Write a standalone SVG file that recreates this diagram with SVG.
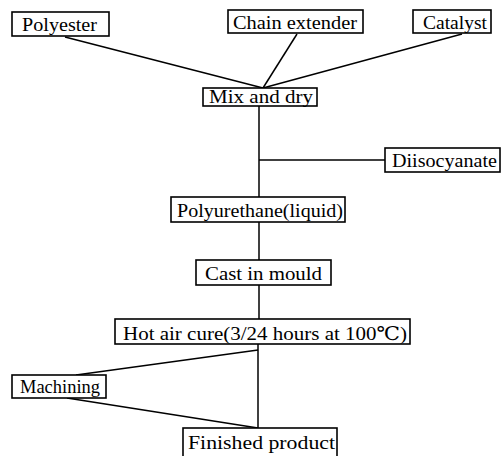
<svg xmlns="http://www.w3.org/2000/svg" width="503" height="456" viewBox="0 0 503 456">
<style>
.box{fill:#fff;stroke:#000;stroke-width:1.6}
.t{font-size:19px;fill:#000}
.c{stroke:#000;stroke-width:1.5;fill:none}
</style>
<rect width="503" height="456" fill="#fff"/>
<g id="connectors">
<line class="c" x1="65" y1="37" x2="263" y2="88"/>
<line class="c" x1="297" y1="34" x2="263" y2="88"/>
<line class="c" x1="462" y1="34" x2="263" y2="88"/>
<line class="c" x1="259" y1="106" x2="259" y2="197"/>
<line class="c" x1="259" y1="160" x2="385" y2="160"/>
<line class="c" x1="259" y1="222" x2="259" y2="260"/>
<line class="c" x1="259" y1="285" x2="259" y2="319"/>
<line class="c" x1="258" y1="344" x2="258" y2="428"/>
<line class="c" x1="258" y1="350" x2="76" y2="375"/>
<line class="c" x1="67" y1="398" x2="258" y2="428"/>
</g>
<g font-family="'Liberation Serif', 'Times New Roman', 'DejaVu Serif', serif">
<g id="polyester"><rect class="box" x="12" y="12" width="97" height="24"/><text class="t" x="22" y="31" textLength="75" lengthAdjust="spacingAndGlyphs">Polyester</text></g>
<g id="chain-extender"><rect class="box" x="228" y="10" width="135" height="23"/><text class="t" x="233" y="29" textLength="124" lengthAdjust="spacingAndGlyphs">Chain extender</text></g>
<g id="catalyst"><rect class="box" x="413" y="10" width="78" height="23"/><text class="t" x="423" y="29" textLength="64" lengthAdjust="spacingAndGlyphs">Catalyst</text></g>
<g id="mix-and-dry"><rect class="box" x="203" y="88" width="114" height="18"/><text class="t" x="209" y="103" textLength="104" lengthAdjust="spacingAndGlyphs">Mix and dry</text></g>
<g id="diisocyanate"><rect class="box" x="385" y="148" width="115" height="24"/><text class="t" x="392" y="167" textLength="105" lengthAdjust="spacingAndGlyphs">Diisocyanate</text></g>
<g id="polyurethane"><rect class="box" x="171" y="197" width="174" height="25"/><text class="t" x="177" y="217" textLength="166" lengthAdjust="spacingAndGlyphs">Polyurethane(liquid)</text></g>
<g id="cast-in-mould"><rect class="box" x="196" y="260" width="135" height="25"/><text class="t" x="205" y="280" textLength="117" lengthAdjust="spacingAndGlyphs">Cast in mould</text></g>
<g id="hot-air-cure"><rect class="box" x="115" y="319" width="295" height="25"/><text class="t" x="123" y="340" textLength="284" lengthAdjust="spacingAndGlyphs">Hot air cure(3/24 hours at 100℃)</text></g>
<g id="machining"><rect class="box" x="12" y="375" width="94" height="23"/><text class="t" x="20" y="393" textLength="80" lengthAdjust="spacingAndGlyphs">Machining</text></g>
<g id="finished-product"><rect class="box" x="183" y="428" width="154" height="30"/><text class="t" x="188" y="449" textLength="147" lengthAdjust="spacingAndGlyphs">Finished product</text></g>
</g>
</svg>
